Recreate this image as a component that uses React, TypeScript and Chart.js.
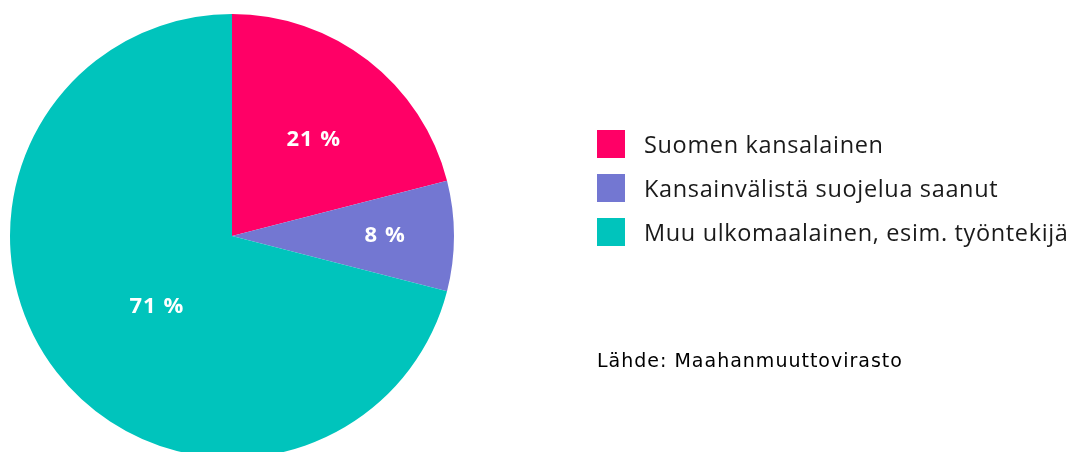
import React, { useEffect, useRef } from "react";
import { Chart, registerables } from "chart.js";

Chart.register(...registerables);

const categories = [
  "Suomen kansalainen",
  "Kansainvälistä suojelua saanut",
  "Muu ulkomaalainen, esim. työntekijä",
];
const shares = [21, 8, 71];
const valueLabels = ["21 %", "8 %", "71 %"];
const colors = ["#FF0066", "#7377D2", "#00C4BC"];
const sourceText = "Lähde: Maahanmuuttovirasto";

// label placement style: fraction of radius and angle shift (degrees)
const labelRadius = [0.57, 0.69, 0.465];
const labelShift = [2.5, 0, -5.5];

const labelPlugin = {
  id: "sliceLabels",
  afterDatasetsDraw(chart: any) {
    const meta = chart.getDatasetMeta(0);
    const ctx = chart.ctx;
    ctx.save();
    ctx.fillStyle = "#ffffff";
    ctx.font = "bold 22px 'Open Sans', sans-serif";
    try {
      (ctx as any).letterSpacing = "1px";
    } catch (e) {}
    ctx.textAlign = "center";
    ctx.textBaseline = "middle";
    meta.data.forEach((arc: any, i: number) => {
      const p = arc.getProps(["x", "y", "startAngle", "endAngle", "outerRadius"], true);
      const mid = (p.startAngle + p.endAngle) / 2 + (labelShift[i] * Math.PI) / 180;
      const r = p.outerRadius * labelRadius[i];
      ctx.fillText(valueLabels[i], p.x + Math.cos(mid) * r, p.y + Math.sin(mid) * r);
    });
    ctx.restore();
  },
};

export default function App() {
  const ref = useRef<HTMLCanvasElement | null>(null);
  useEffect(() => {
    const prevMargin = document.body.style.margin;
    document.body.style.margin = "0";
    const chart = new Chart(ref.current as HTMLCanvasElement, {
      type: "pie",
      data: {
        labels: categories,
        datasets: [
          {
            data: shares,
            backgroundColor: colors,
            borderWidth: 0,
          },
        ],
      },
      options: {
        animation: false,
        responsive: false,
        layout: { padding: { left: 10, top: 14, right: 616, bottom: 14 } },
        plugins: {
          legend: { display: false },
          tooltip: { enabled: false },
        },
      },
      plugins: [labelPlugin],
    });
    return () => {
      chart.destroy();
      document.body.style.margin = prevMargin;
    };
  }, []);

  return (
    <div
      style={{
        position: "absolute",
        left: 0,
        top: 0,
        width: 1070,
        height: 452,
        overflow: "hidden",
        background: "#fff",
      }}
    >
      <canvas ref={ref} width={1070} height={472} style={{ position: "absolute", left: 0, top: 0 }} />
      {categories.map((c, i) => (
        <div
          key={c}
          style={{
            position: "absolute",
            left: 597,
            top: 130 + i * 44,
            height: 28,
            display: "flex",
            alignItems: "center",
            whiteSpace: "nowrap",
          }}
        >
          <span style={{ width: 28, height: 28, background: colors[i], display: "inline-block", flex: "none" }} />
          <span
            style={{
              marginLeft: 19,
              fontFamily: "'Open Sans', sans-serif",
              fontSize: 23.5,
              letterSpacing: 0.65,
              color: "#1a1a1a",
            }}
          >
            {c}
          </span>
        </div>
      ))}
      <div
        style={{
          position: "absolute",
          left: 597,
          top: 349,
          fontFamily: "'DejaVu Sans', Verdana, sans-serif",
          fontSize: 19,
          letterSpacing: 1,
          color: "#000",
          whiteSpace: "nowrap",
        }}
      >
        {sourceText}
      </div>
    </div>
  );
}
